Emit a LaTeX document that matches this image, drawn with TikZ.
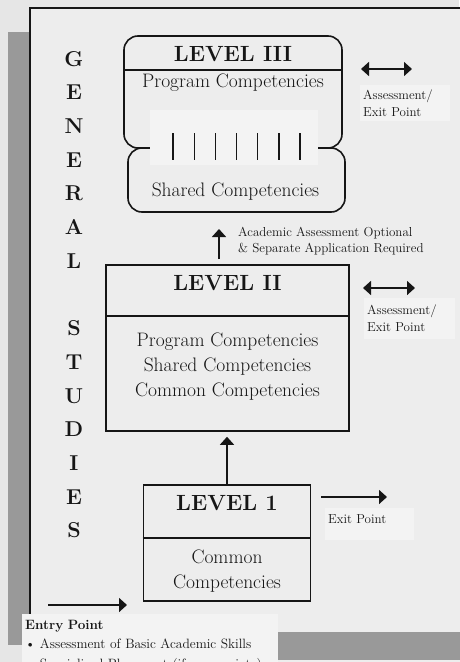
\documentclass[tikz,border=0pt]{standalone}
\usepackage{tikz}
\usetikzlibrary{
  positioning,
  arrows.meta
}
\usepackage{xcolor}
\definecolor{pagebg}{HTML}{E6E6E6}
\definecolor{framebg}{HTML}{EDEDED}
\definecolor{notebg}{HTML}{F3F3F3}
\definecolor{shadowgray}{HTML}{999999}
\definecolor{inkgray}{HTML}{161616}

\begin{document}
\begin{tikzpicture}[
  x=1pt, y=-1pt,
  level_box/.style={
    draw=inkgray,
    line width=1.6pt,
    inner sep=0pt,
  },
  level_line/.style={
    draw=inkgray,
    line width=1.6pt,
  },
  level_title/.style={
    anchor=base,
    text=inkgray,
    font=\fontsize{22}{26}\selectfont\bfseries,
  },
  comp_text/.style={
    anchor=base,
    text=inkgray,
    font=\fontsize{19.5}{24}\selectfont,
  },
  gs_letter/.style={
    anchor=base,
    text=inkgray,
    font=\fontsize{21.5}{21.5}\selectfont\bfseries,
  },
  side_note/.style={
    fill=notebg,
    text=inkgray,
    align=left,
    inner xsep=3pt,
    font=\fontsize{13}{16.5}\selectfont,
  },
  flow_arrow/.style={
    draw=inkgray,
    line width=1.6pt,
    -{Triangle[length=8pt,width=14pt]},
  },
  both_arrow/.style={
    flow_arrow,
    {Triangle[length=8pt,width=14pt]}-{Triangle[length=8pt,width=14pt]},
  },
  ]

  \path[use as bounding box] (0,0) rectangle (459,662);
  \fill[pagebg] (0,0) rectangle (459,662);
  \fill[framebg] (30,8) rectangle (470,680);
  \fill[shadowgray] (8,32) rectangle (30,645);
  \fill[shadowgray] (278,632) rectangle (470,660);
  \draw[inkgray, line width=2pt] (30,645) -- (30,8) -- (470,8);

  % side title
  \foreach \ch [count=\k from 0] in {G,E,N,E,R,A,L}
    \node[gs_letter] (gen\k) at (74,66+33.7*\k) {\ch};
  \foreach \ch [count=\k from 8] in {S,T,U,D,I,E,S}
    \node[gs_letter] (stu\k) at (74,66+33.7*\k) {\ch};

  % level III
  \node[level_box, rounded corners=14pt, minimum width=218pt, minimum height=112pt] (levelthree) at (233,92) {};
  \node[level_box, rounded corners=14pt, minimum width=217pt, minimum height=64pt] (sharedthree) at (236.5,180) {};
  \coordinate (threerule) at (0,70);
  \draw[level_line] (levelthree.west |- threerule) -- (levelthree.east |- threerule);
  \fill[notebg] (150,110) rectangle (318,165);
  \foreach \k in {0,...,6}
    \draw[level_line, line width=1.3pt] (173+21.17*\k,133) -- (173+21.17*\k,160);
  \node[level_title] (threetitle) at (233,61.7) {LEVEL III};
  \node[comp_text] (threeprog) at (233,87) {Program Competencies};
  \node[comp_text] (threeshared) at (235.5,196.5) {Shared Competencies};

  % level II
  \node[level_box, minimum width=243pt, minimum height=166pt] (leveltwo) at (227.5,348) {};
  \coordinate (tworule) at (0,316);
  \draw[level_line] (leveltwo.west |- tworule) -- (leveltwo.east |- tworule);
  \node[level_title] (twotitle) at (227.5,290.7) {LEVEL II};
  \foreach \txt [count=\k from 0] in {Program Competencies, Shared Competencies, Common Competencies}
    \node[comp_text] (twoline\k) at (227.5,346.7+25*\k) {\txt};

  % level 1
  \node[level_box, minimum width=167pt, minimum height=116pt] (levelone) at (227,543) {};
  \coordinate (onerule) at (0,538);
  \draw[level_line] (levelone.west |- onerule) -- (levelone.east |- onerule);
  \node[level_title] (onetitle) at (227,510.7) {LEVEL 1};
  \foreach \txt [count=\k from 0] in {Common, Competencies}
    \node[comp_text] (oneline\k) at (227,563+25*\k) {\txt};

  % arrows and notes
  \draw[flow_arrow, shorten >=5pt] (levelone.north) -- (levelone.north |- leveltwo.south);

  \coordinate (optstart) at (219,259);
  \coordinate (optend) at (219,229);
  \draw[flow_arrow] (optstart) -- (optend);
  \node[side_note, fill=none, inner sep=0pt, anchor=north west, font=\fontsize{13}{16}\selectfont] (optnote) at (238,227) {Academic Assessment Optional\\\& Separate Application Required};

  \coordinate (threeleft) at (361,69);
  \coordinate (threeright) at (412,69);
  \draw[both_arrow] (threeleft) -- (threeright);
  \node[side_note, text width=84pt, inner ysep=4.75pt, below=16pt of threeleft, anchor=north west, xshift=-1pt] (threenote) {Assessment/\\Exit Point};

  \coordinate (twoleft) at (363,288);
  \coordinate (tworight) at (415,288);
  \draw[both_arrow] (twoleft) -- (tworight);
  \node[side_note, text width=85pt, inner ysep=7pt, below=10pt of twoleft, anchor=north west, xshift=1pt] (twonote) {Assessment/\\Exit Point};

  \coordinate (exitstart) at (321,497);
  \coordinate (exitend) at (387,497);
  \draw[flow_arrow] (exitstart) -- (exitend);
  \node[side_note, text width=83pt, inner ysep=6pt, text depth=11pt, below=11pt of exitstart, anchor=north west, xshift=4pt] (exitnote) {Exit Point};

  \coordinate (entrystart) at (48,605);
  \coordinate (entryend) at (127,605);
  \draw[flow_arrow] (entrystart) -- (entryend);
  \node[side_note, text width=250pt, inner ysep=6pt, anchor=north west, font=\fontsize{13.5}{19.5}\selectfont] (entrynote) at (22,614) {\textbf{Entry Point}\\\textbullet\ Assessment of Basic Academic Skills\\\textbullet\ Specialized Placement (if appropriate)};

\end{tikzpicture}
\end{document}
